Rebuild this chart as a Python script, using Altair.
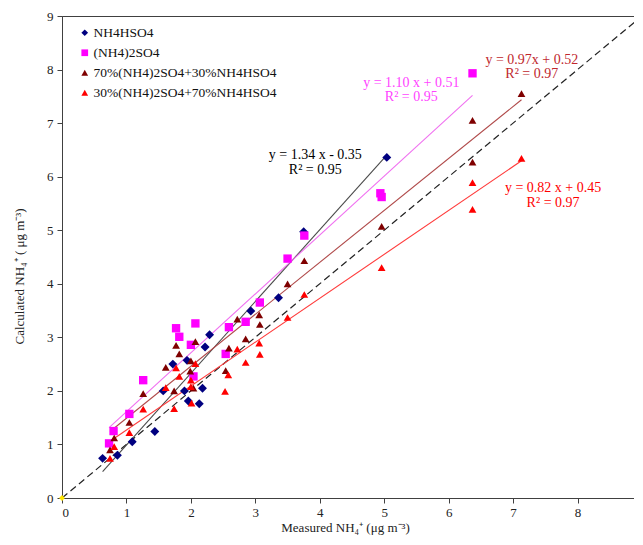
import altair as alt
import pandas as pd

FONT = "Times New Roman, Liberation Serif, serif"

series_names = ["NH4HSO4", "(NH4)2SO4", "70%(NH4)2SO4+30%NH4HSO4", "30%(NH4)2SO4+70%NH4HSO4"]
point_colors = ["#000080", "#FF00FF", "#7F0000", "#FF0000"]
point_shapes = ["diamond", "square", "triangle-up", "triangle-up"]
point_sizes = [80, 70, 60, 60]

# NH4HSO4
hs_x = [0.63, 0.86, 1.09, 1.44, 1.57, 1.72, 1.90, 1.94, 1.96, 2.13, 2.18, 2.22, 2.29, 2.93, 3.36, 3.75, 5.04]
hs_y = [0.74, 0.80, 1.05, 1.24, 2.00, 2.50, 2.00, 2.57, 1.81, 1.76, 2.05, 2.82, 3.05, 3.49, 3.74, 4.97, 6.36]
# (NH4)2SO4
as_x = [0.73, 0.80, 1.045, 1.26, 1.77, 1.82, 2.00, 2.04, 2.07, 2.54, 2.59, 2.85, 3.07, 3.50, 3.76, 4.94, 4.96, 6.37]
as_y = [1.02, 1.25, 1.57, 2.20, 3.17, 3.01, 2.86, 2.27, 3.26, 2.69, 3.19, 3.29, 3.65, 4.47, 4.90, 5.69, 5.62, 7.93]
# 70%(NH4)2SO4+30%NH4HSO4
m70_x = [0.745, 0.81, 1.045, 1.26, 1.61, 1.74, 1.77, 1.82, 1.99, 2.00, 2.04, 2.07, 2.54, 2.59, 2.72, 2.85,
         3.06, 3.07, 3.50, 3.76, 4.96, 6.37, 6.37, 7.13]
m70_y = [0.90, 1.12, 1.41, 1.95, 2.44, 2.00, 2.85, 2.69, 2.37, 2.56, 2.05, 2.92, 2.38, 2.80, 3.34, 2.97,
         3.42, 3.24, 4.00, 4.43, 5.07, 7.05, 6.27, 7.55]
# 30%(NH4)2SO4+70%NH4HSO4
m30_x = [0.745, 0.81, 1.045, 1.26, 1.61, 1.74, 1.77, 1.82, 2.00, 2.00, 2.01, 2.07, 2.53, 2.58, 2.72, 2.85,
         3.06, 3.07, 3.50, 3.76, 4.96, 6.37, 6.37, 7.13]
m30_y = [0.74, 0.96, 1.22, 1.66, 2.06, 1.67, 2.43, 2.27, 2.20, 2.08, 1.77, 2.51, 1.99, 2.30, 2.78, 2.53,
         2.89, 2.68, 3.37, 3.80, 4.30, 5.89, 5.39, 6.34]

# regression lines shown on the chart
fit_slope = [1.34, 1.10, 0.97, 0.82]
fit_intercept = [-0.35, 0.51, 0.52, 0.45]
fit_colors = ["#4A4A4A", "#F070F0", "#B04A4A", "#FF3B3B"]

# annotation texts
ann_text = ["y = 1.34 x - 0.35", "R² = 0.95",
            "y = 1.10 x + 0.51", "R² = 0.95",
            "y = 0.97x + 0.52", "R² = 0.97",
            "y = 0.82 x + 0.45", "R² = 0.97"]
ann_x = [3.93, 3.93, 5.42, 5.42, 7.29, 7.29, 7.62, 7.62]
ann_y = [6.40, 6.12, 7.75, 7.49, 8.18, 7.92, 5.79, 5.51]
ann_color = ["#000000", "#000000", "#FF44FF", "#FF44FF", "#C0272D", "#C0272D", "#FF0000", "#FF0000"]

one_to_one = [0, 9]

xs = [hs_x, as_x, m70_x, m30_x]
ys = [hs_y, as_y, m70_y, m30_y]

rows = []
for name, sx, sy, sz in zip(series_names, xs, ys, point_sizes):
    for a, b in zip(sx, sy):
        rows.append({"series": name, "x": a, "y": b, "sz": sz})
pts = pd.DataFrame(rows)

lrows = []
for name, sx, m, c, col in zip(series_names, xs, fit_slope, fit_intercept, fit_colors):
    for xv in (min(sx), max(sx)):
        lrows.append({"series": name, "x": xv, "y": m * xv + c, "col": col})
fits = pd.DataFrame(lrows)

diag = pd.DataFrame({"x": one_to_one, "y": one_to_one})
origin = pd.DataFrame({"x": [0], "y": [0]})
ann = pd.DataFrame({"x": ann_x, "y": ann_y, "text": ann_text, "col": ann_color})

xscale = alt.Scale(domain=[0, 9], nice=False)
yscale = alt.Scale(domain=[0, 9], nice=False)

xaxis = alt.Axis(values=list(range(10)), format="d", grid=False, tickSize=5, labelFont=FONT, labelFontSize=13,
                 labelColor="#222222", labelPadding=3, domainColor="#404040", tickColor="#404040",
                 title="Measured NH₄⁺ (μg m⁻³)", titleFont=FONT, titleFontSize=13,
                 titleFontWeight="normal", titleColor="#222222", titlePadding=2, titleX=283)
yaxis = alt.Axis(values=list(range(10)), format="d", grid=False, tickSize=5, labelFont=FONT, labelFontSize=13,
                 labelColor="#222222", labelPadding=4, domainColor="#404040", tickColor="#404040",
                 title="Calculated NH₄⁺ ( μg m⁻³)", titleFont=FONT, titleFontSize=13,
                 titleFontWeight="normal", titleColor="#222222", titlePadding=20, titleY=260)

diag_layer = alt.Chart(diag).mark_line(color="#222222", strokeDash=[7, 4], strokeWidth=1.2).encode(
    x=alt.X("x:Q", scale=xscale, axis=xaxis),
    y=alt.Y("y:Q", scale=yscale, axis=yaxis),
)

fit_layer = alt.Chart(fits).mark_line(strokeWidth=1.1).encode(
    x="x:Q", y="y:Q", detail="series:N",
    color=alt.Color("col:N", scale=None),
)

pt_layer = alt.Chart(pts).mark_point(filled=True, opacity=1).encode(
    x="x:Q", y="y:Q",
    size=alt.Size("sz:Q", scale=None, legend=None),
    color=alt.Color("series:N", scale=alt.Scale(domain=series_names, range=point_colors),
                    legend=alt.Legend(title=None, orient="none", legendX=16, legendY=10,
                                      labelFont=FONT, labelFontSize=13.5, labelColor="#111111",
                                      labelLimit=400, symbolSize=45, rowPadding=5, labelOffset=2,
                                      padding=0)),
    shape=alt.Shape("series:N", scale=alt.Scale(domain=series_names, range=point_shapes), legend=None),
)

origin_layer = alt.Chart(origin).mark_point(filled=True, opacity=1, size=35, color="#FFE600",
                                            shape="diamond").encode(x="x:Q", y="y:Q")

text_layer = alt.Chart(ann).mark_text(font=FONT, fontSize=14, align="center", baseline="middle").encode(
    x="x:Q", y="y:Q", text="text:N", color=alt.Color("col:N", scale=None),
)

chart = alt.layer(diag_layer, fit_layer, pt_layer, origin_layer, text_layer).properties(
    width=580, height=482,
    autosize=alt.AutoSizeParams(type="none"),
    padding={"left": 54, "top": 8, "right": -8, "bottom": 39},
).configure_view(stroke="#404040", strokeWidth=1).configure_legend(
    symbolStrokeWidth=0
)

chart.save("out.html", embed_options={"renderer": "svg", "actions": False})
